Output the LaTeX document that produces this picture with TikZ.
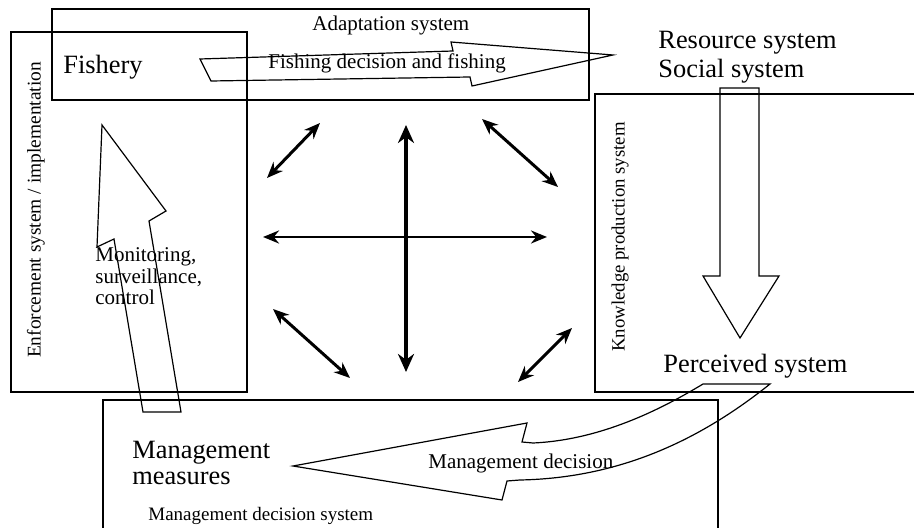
\documentclass[tikz,border=0pt]{standalone}
\usepackage{fontspec}
\setmainfont{Liberation Serif}
\usetikzlibrary{arrows.meta,positioning}

\tikzset{
  sysbox/.style={draw, line width=0.7pt},
  blockarrow/.style={draw, line width=0.6pt, line join=miter},
  link/.style={line width=1.5pt, {Stealth[length=8pt,width=6.5pt]}-{Stealth[length=8pt,width=6.5pt]}},
  bigtext/.style={font=\fontsize{13.2}{14.5}\selectfont, inner sep=0pt},
  midtext/.style={font=\fontsize{10.5}{10.75}\selectfont, inner sep=0pt},
  smalltext/.style={font=\fontsize{9.4}{10}\selectfont, inner sep=0pt}
}

\begin{document}
\begin{tikzpicture}[x=0.5pt, y=-0.5pt]
  \useasboundingbox (0,0) rectangle (914,528);

  % the four subsystems
  \draw[sysbox] (52,9) rectangle (589,100);
  \draw[sysbox] (11,32) rectangle (247,392);
  \draw[sysbox] (595,94) rectangle (920,392);
  \draw[sysbox] (103,400) rectangle (718,540);

  % labels (base of a multi-line node = last line)
  \node[midtext, anchor=base west] (adapt) at (312,31) {Adaptation system};
  \node[bigtext, anchor=base west] (fishery) at (63,74) {Fishery};
  \node[midtext, anchor=base west] (fishing) at (268,69) {Fishing decision and fishing};
  \node[bigtext, anchor=base west, align=left] (resource) at (658,78) {Resource system\\Social system};
  \node[smalltext, font=\fontsize{9.7}{10}\selectfont, rotate=90] (enforce) at (36,210) {Enforcement system / implementation};
  \node[smalltext, rotate=90] (knowledge) at (620,237) {Knowledge production system};
  \node[bigtext, anchor=base west] (perceived) at (663,373) {Perceived system};
  \node[midtext, anchor=base west, align=left] (monitor) at (95,305) {Monitoring,\\surveillance,\\control};
  \node[bigtext, anchor=base west, align=left, font=\fontsize{13.2}{13}\selectfont] (measures) at (132,484) {Management\\measures};
  \node[midtext, anchor=base west] (mdecision) at (428,468) {Management decision};
  \node[font=\fontsize{9.5}{10}\selectfont, inner sep=0pt, anchor=base west] (msystem) at (148,520) {Management decision system};

  % block arrows
  \draw[blockarrow] (200,59) -- (453,51) -- (451,42) -- (613,55) -- (472,86) -- (470,77) -- (211,81) -- cycle;
  \draw[blockarrow] (720,88) -- (759,88) -- (759,276) -- (779,276) -- (740,338) -- (703,276) -- (720,276) -- cycle;
  \draw[blockarrow] (102,125) -- (166,211) -- (149,221) -- (181,412) -- (143,412) -- (114,239) -- (97,247) -- cycle;
  \draw[blockarrow] (293,466) -- (527,423) -- (522,442) -- (533,443)
    .. controls (600,440) and (660,410) .. (703,384) -- (770,384)
    .. controls (700,440) and (620,478) .. (520,480) -- (507,481) -- (502,500) -- cycle;

  % interactions in the middle
  \coordinate (vtop) at (406,125);
  \coordinate (vbot) at (406,372);
  \coordinate (hleft) at (263,237);
  \coordinate (hright) at (547,237);
  \coordinate (tl1) at (267,178);
  \coordinate (tl2) at (320,123);
  \coordinate (tr1) at (482,119);
  \coordinate (tr2) at (558,187);
  \coordinate (bl1) at (273,309);
  \coordinate (bl2) at (350,378);
  \coordinate (br1) at (518,382);
  \coordinate (br2) at (572,328);

  \draw[link, line width=2pt, {Stealth[length=9pt,width=8pt]}-{Stealth[length=9pt,width=8pt]}] (vtop) -- (vbot);
  \draw[link, line width=1.3pt] (hleft) -- (hright);
  \draw[link] (tl1) -- (tl2);
  \draw[link] (tr1) -- (tr2);
  \draw[link] (bl1) -- (bl2);
  \draw[link] (br1) -- (br2);
\end{tikzpicture}
\end{document}
